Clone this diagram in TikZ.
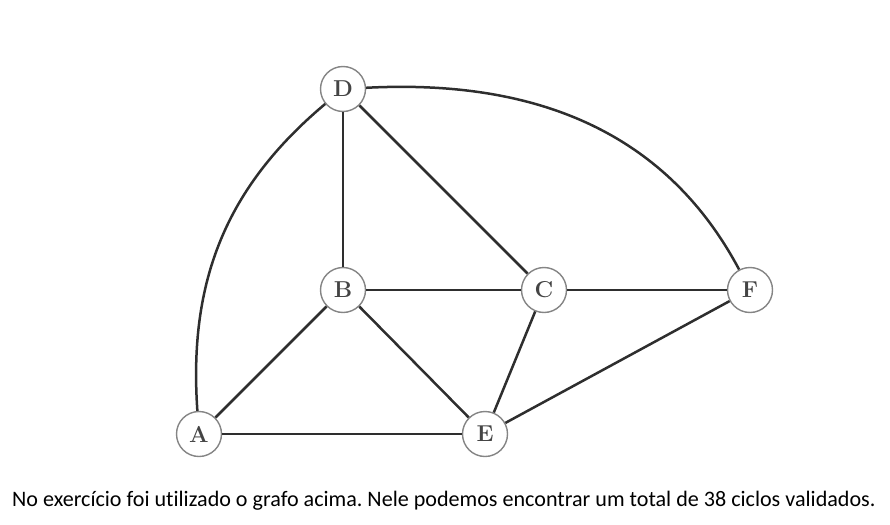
\documentclass[tikz,border=0pt]{standalone}
\usepackage{fontspec}
\newfontfamily\captionfont[Ligatures=NoCommon]{Carlito}
\usetikzlibrary{arrows}
\definecolor{edgegray}{HTML}{2E2E2E}
\definecolor{ringgray}{HTML}{858585}
\definecolor{labelgray}{HTML}{444444}
\begin{document}
\frenchspacing
\begin{tikzpicture}[x=1pt,y=-1pt,
	main_node/.style={circle,fill=white,draw=ringgray,line width=1.4pt,minimum size=45pt,inner sep=0pt,text=labelgray,font=\fontsize{23}{25}\selectfont\bfseries},
	edge/.style={draw=edgegray,line width=2.5pt}]
		\useasboundingbox (0,0) rectangle (890,524);

		\node[main_node] (D) at (343,89) {D};
		\node[main_node] (B) at (343,290) {B};
		\node[main_node] (C) at (544,290) {C};
		\node[main_node] (F) at (750,290) {F};
		\node[main_node] (A) at (199,434) {A};
		\node[main_node] (E) at (485,434) {E};

		\draw[edge] (D) -- (B);
		\draw[edge] (D) -- (C);
		\draw[edge] (B) -- (C);
		\draw[edge] (C) -- (F);
		\draw[edge] (A) -- (B);
		\draw[edge] (B) -- (E);
		\draw[edge] (C) -- (E);
		\draw[edge] (A) -- (E);
		\draw[edge] (E) -- (F);
		\draw[edge] (A) to[out=94,in=220] (D);
		\draw[edge] (D) to[out=3,in=118] (F);

		\node[anchor=base west,inner sep=0pt,font=\captionfont\fontsize{22.1}{24}\selectfont] (caption) at (12,506) {No exercício foi utilizado o grafo acima. Nele podemos encontrar um total de 38 ciclos validados.};
		\end{tikzpicture}
\end{document}
